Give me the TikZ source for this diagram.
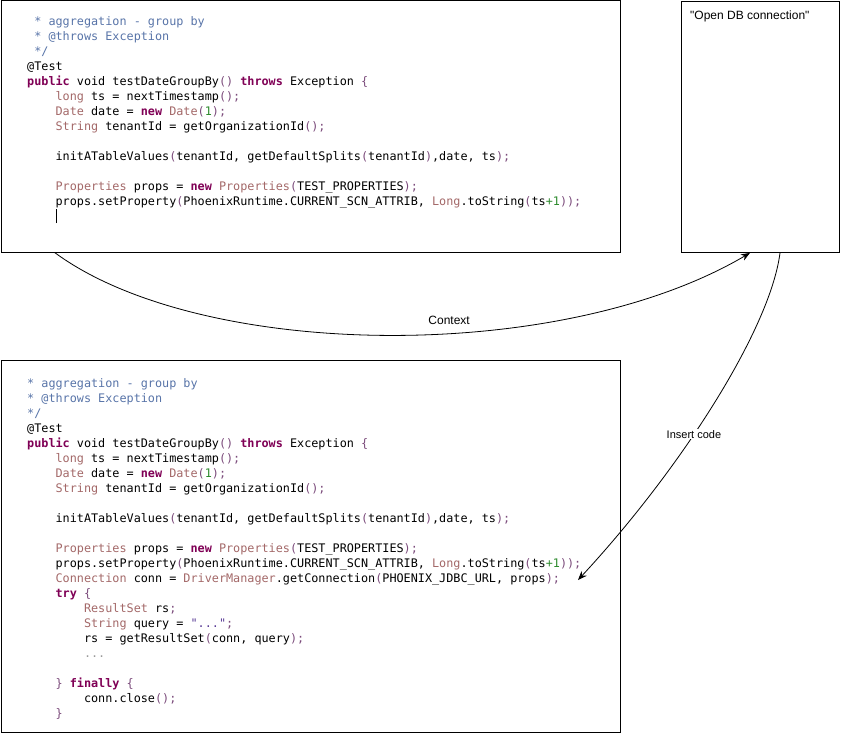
\documentclass[tikz,border=0pt]{standalone}
\usepackage{fontspec}
\usetikzlibrary{arrows.meta}

\newfontfamily\codefont{DejaVu Sans Mono}
\newfontfamily\labelfont{Liberation Sans}

\definecolor{kwred}{HTML}{7F0055}
\definecolor{typerose}{HTML}{A36868}
\definecolor{cmtblue}{HTML}{5874A8}
\definecolor{numgreen}{HTML}{2E8B2E}
\definecolor{parpurple}{HTML}{7B4B7B}
\definecolor{strblue}{HTML}{5A3C96}
\definecolor{dotgray}{HTML}{9A9A9A}

\newcommand{\kw}[1]{\textcolor{kwred}{\bfseries #1}}
\newcommand{\ty}[1]{\textcolor{typerose}{#1}}
\newcommand{\cm}[1]{\textcolor{cmtblue}{#1}}
\newcommand{\nm}[1]{\textcolor{numgreen}{#1}}
\newcommand{\pp}[1]{\textcolor{parpurple}{#1}}
\newcommand{\tb}{\phantom{xxxx}}
\newcommand{\fs}{\rule{0pt}{11pt}}

\tikzset{
  codebox/.style={draw, line width=0.9pt, anchor=north west, inner sep=0pt},
  codetext/.style={anchor=north west, inner sep=0pt, align=left,
    font=\codefont\fontsize{11.8pt}{15pt}\selectfont},
  lbl/.style={font=\labelfont\fontsize{12pt}{14pt}\selectfont},
  conn/.style={-{Stealth[length=9pt,width=7pt]}, line width=0.8pt}
}

\begin{document}
\begin{tikzpicture}[x=1pt, y=-1pt]
  \useasboundingbox (0,0) rectangle (842,733);

  % the three boxes
  \node[codebox, minimum width=619pt, minimum height=251pt] (topbox) at (0.5,0.5) {};
  \node[codebox, minimum width=158pt, minimum height=251pt] (dbbox) at (681,1) {};
  \node[codebox, minimum width=619pt, minimum height=371.5pt] (botbox) at (0.5,360) {};

  \node[lbl, anchor=base west, inner sep=0pt] (dblabel)
    at ([shift={(9pt,-18.5pt)}]dbbox.north west) {"Open DB connection"};

  % code before
  \node[codetext] (topcode) at ([shift={(26.5pt,-13.5pt)}]topbox.north west) {%
\phantom{x}\cm{* aggregation - group by}\fs\\
\phantom{x}\cm{* @throws Exception}\\
\phantom{x}\cm{*/}\\
@Test\\
\kw{public} void testDateGroupBy\pp{()} \kw{throws} Exception \pp{\{}\\
\tb\ty{long} ts = nextTimestamp\pp{();}\\
\tb\ty{Date} date = \kw{new} \ty{Date}\pp{(}\nm{1}\pp{);}\\
\tb\ty{String} tenantId = getOrganizationId\pp{();}\\[15pt]
\tb initATableValues\pp{(}tenantId, getDefaultSplits\pp{(}tenantId\pp{)},date, ts\pp{);}\\[15pt]
\tb\ty{Properties} props = \kw{new} \ty{Properties}\pp{(}TEST\_PROPERTIES\pp{);}\\
\tb props.setProperty\pp{(}PhoenixRuntime.CURRENT\_SCN\_ATTRIB, \ty{Long}.toString\pp{(}ts\nm{+1}\pp{));}\\
\tb\rule[-3pt]{0.9pt}{14pt}};

  % code after
  \node[codetext] (botcode) at ([shift={(26.5pt,-16pt)}]botbox.north west) {%
\cm{* aggregation - group by}\fs\\
\cm{* @throws Exception}\\
\cm{*/}\\
@Test\\
\kw{public} void testDateGroupBy\pp{()} \kw{throws} Exception \pp{\{}\\
\tb\ty{long} ts = nextTimestamp\pp{();}\\
\tb\ty{Date} date = \kw{new} \ty{Date}\pp{(}\nm{1}\pp{);}\\
\tb\ty{String} tenantId = getOrganizationId\pp{();}\\[15pt]
\tb initATableValues\pp{(}tenantId, getDefaultSplits\pp{(}tenantId\pp{)},date, ts\pp{);}\\[15pt]
\tb\ty{Properties} props = \kw{new} \ty{Properties}\pp{(}TEST\_PROPERTIES\pp{);}\\
\tb props.setProperty\pp{(}PhoenixRuntime.CURRENT\_SCN\_ATTRIB, \ty{Long}.toString\pp{(}ts\nm{+1}\pp{));}\\
\tb\ty{Connection} conn = \ty{DriverManager}.getConnection\pp{(}PHOENIX\_JDBC\_URL, props\pp{);}\\
\tb\kw{try} \pp{\{}\\
\tb\tb\ty{ResultSet} rs\pp{;}\\
\tb\tb\ty{String} query = \textcolor{strblue}{"..."}\pp{;}\\
\tb\tb rs = getResultSet\pp{(}conn, query\pp{);}\\
\tb\tb\textcolor{dotgray}{...}\\[15pt]
\tb\pp{\}} \kw{finally} \pp{\{}\\
\tb\tb conn.close\pp{();}\\
\tb\pp{\}}};

  % connectors
  \coordinate (connend) at (578,580);
  \draw[conn] ([xshift=54pt]topbox.south west) .. controls (200,360) and (560,365) .. ([xshift=69pt]dbbox.south west)
    node[lbl, pos=0.58, above=5pt] (ctxlabel) {Context};
  \draw[conn] ([xshift=99pt]dbbox.south west) .. controls (770,330) and (680,470) .. (connend)
    node[pos=0.585, fill=white, inner sep=1pt, font=\labelfont\fontsize{11pt}{13pt}\selectfont] (inslabel) {Insert code};
\end{tikzpicture}
\end{document}
